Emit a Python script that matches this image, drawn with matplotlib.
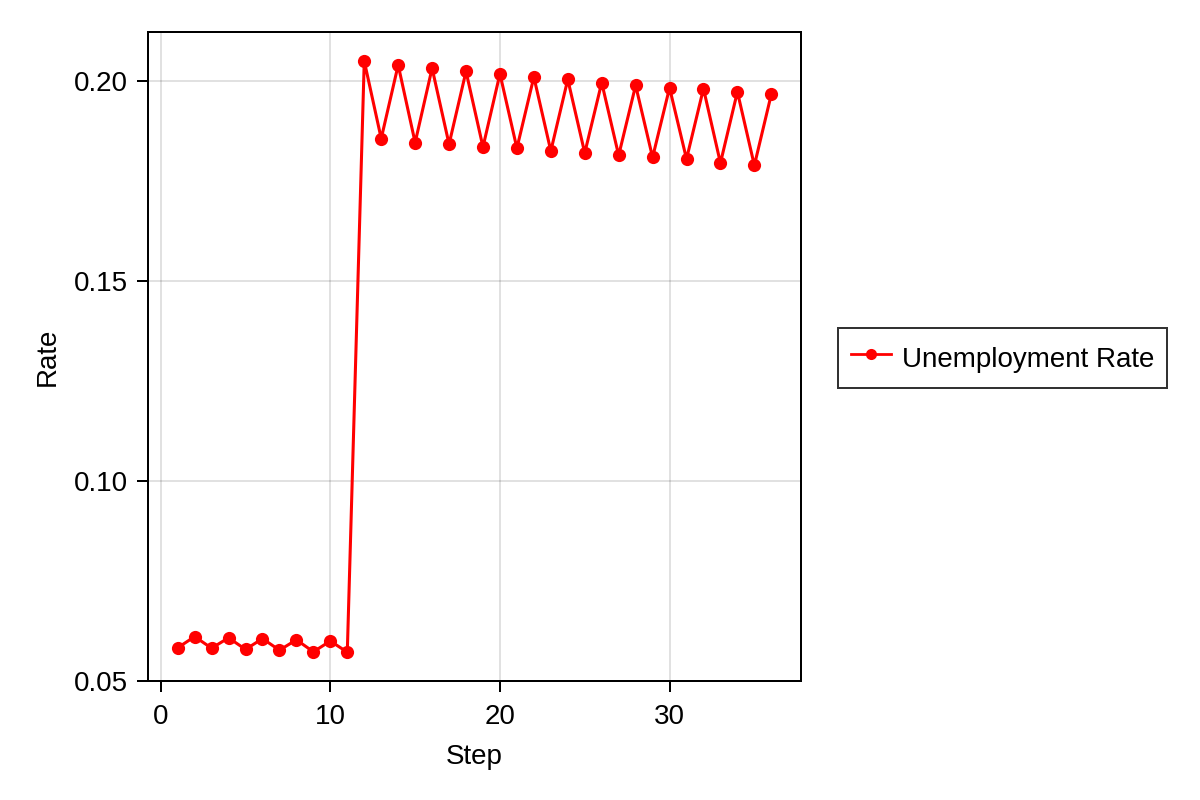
import matplotlib
matplotlib.use("Agg")
import matplotlib.pyplot as plt

steps = list(range(1, 37))
rate = [
    0.0583, 0.0611, 0.0582, 0.0608, 0.0579, 0.0606, 0.0577, 0.0603, 0.0573, 0.0600,
    0.0572, 0.2050, 0.1856, 0.2040, 0.1846, 0.2032, 0.1842, 0.2024, 0.1835, 0.2018,
    0.1832, 0.2010, 0.1825, 0.2004, 0.1820, 0.1996, 0.1814, 0.1989, 0.1809, 0.1983,
    0.1805, 0.1981, 0.1795, 0.1973, 0.1789, 0.1967,
]
xticks = [0, 10, 20, 30]
yticks = [0.05, 0.10, 0.15, 0.20]
ytick_labels = ["0.05", "0.10", "0.15", "0.20"]

plt.rcParams['font.family'] = ['Liberation Sans', 'DejaVu Sans']
plt.rcParams['font.size'] = 20

W, H = 1200, 800
fig = plt.figure(figsize=(12, 8), dpi=100)
ax = fig.add_axes([148 / W, 1 - 681 / H, (801 - 148) / W, (681 - 32) / H])

ax.plot(steps, rate, color='red', linewidth=2.2, marker='o', markersize=9.5,
        markeredgewidth=0, label='Unemployment Rate')

ax.set_xlim(-0.75, 37.75)
ax.set_ylim(0.05, 0.21225)
ax.set_xticks(xticks)
ax.set_yticks(yticks)
ax.set_yticklabels(ytick_labels)
ax.grid(True, color='black', alpha=0.12, linewidth=1.4)
ax.set_axisbelow(True)
for s in ax.spines.values():
    s.set_linewidth(1.44)
ax.tick_params(direction='out', length=7.6, width=1.44, labelsize=20)
ax.tick_params(axis='x', pad=9)
ax.tick_params(axis='y', pad=7)
ax.set_xlabel('Step', fontsize=20, labelpad=10)
ax.set_ylabel('Rate', fontsize=20, labelpad=9)

leg = fig.legend(loc='center left', bbox_to_anchor=(838 / W, 1 - 358 / H),
                 fontsize=20, frameon=True, fancybox=False, handlelength=1.44,
                 handleheight=1.6, borderpad=0.45, handletextpad=0.43,
                 borderaxespad=0)
leg.get_frame().set_edgecolor('black')
leg.get_frame().set_linewidth(1.44)
leg.legend_handles[0].set_markersize(8)
leg.legend_handles[0].set_linewidth(2.0)

fig.savefig('out.png', dpi=100)
